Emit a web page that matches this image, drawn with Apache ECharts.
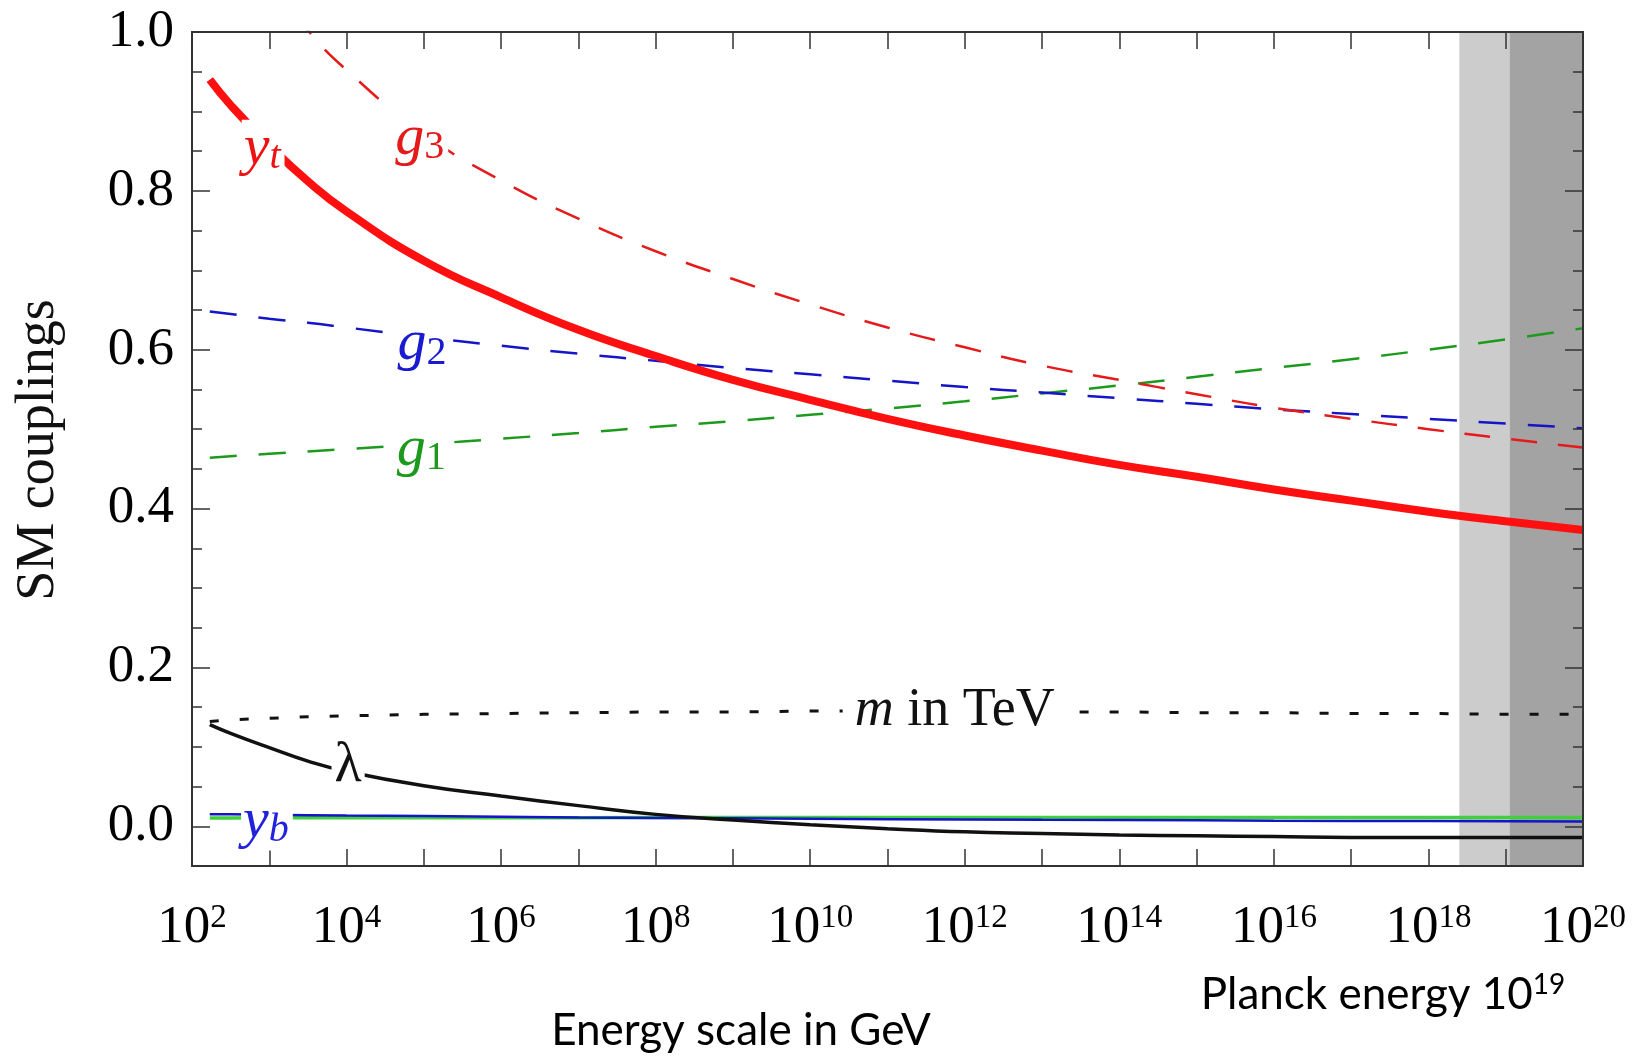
<!DOCTYPE html>
<html>
<head>
<meta charset="utf-8">
<script src="https://cdn.jsdelivr.net/npm/echarts@6/dist/echarts.min.js"></script>
<style>
html, body { margin: 0; padding: 0; background: #fff; }
#mycharts { width: 1639px; height: 1058px; }
</style>
</head>
<body>
<div id="mycharts"></div>
<script>
// x values are log10(energy / GeV)
var decades = [2.23, 2.5, 3, 3.5, 4, 5, 6, 7, 8, 9, 10, 11, 12, 13, 14, 15, 16, 17, 18, 19, 20];
var yt     = [0.940, 0.908, 0.857, 0.812, 0.774, 0.712, 0.666, 0.625, 0.592, 0.562, 0.537, 0.513, 0.492, 0.473, 0.455, 0.440, 0.424, 0.410, 0.396, 0.384, 0.373];
var g3     = [1.165, 1.130, 1.065, 1.002, 0.952, 0.872, 0.813, 0.765, 0.724, 0.689, 0.657, 0.628, 0.603, 0.580, 0.562, 0.544, 0.527, 0.513, 0.500, 0.488, 0.477];
var g2     = [0.648, 0.645, 0.639, 0.634, 0.628, 0.616, 0.605, 0.595, 0.586, 0.577, 0.569, 0.561, 0.553, 0.546, 0.539, 0.532, 0.525, 0.519, 0.513, 0.507, 0.501];
var g1     = [0.464, 0.466, 0.469, 0.472, 0.475, 0.481, 0.488, 0.495, 0.503, 0.510, 0.518, 0.526, 0.535, 0.545, 0.555, 0.566, 0.577, 0.588, 0.600, 0.613, 0.627];
var lambda = [0.128, 0.117, 0.099, 0.082, 0.069, 0.051, 0.038, 0.026, 0.015, 0.008, 0.002, -0.003, -0.007, -0.009, -0.011, -0.012, -0.013, -0.014, -0.014, -0.014, -0.014];
var mTeV   = [0.132, 0.134, 0.136, 0.138, 0.139, 0.141, 0.142, 0.143, 0.144, 0.144, 0.145, 0.145, 0.145, 0.144, 0.144, 0.143, 0.143, 0.142, 0.142, 0.141, 0.141];
var yb     = [0.015, 0.015, 0.0145, 0.014, 0.0135, 0.0128, 0.012, 0.0112, 0.0105, 0.010, 0.0095, 0.009, 0.0085, 0.0082, 0.008, 0.0075, 0.007, 0.0068, 0.0065, 0.0062, 0.006];
var greenSolid = [0.0105, 0.0105, 0.0106, 0.0106, 0.0107, 0.0108, 0.0108, 0.0109, 0.011, 0.011, 0.011, 0.011, 0.011, 0.011, 0.011, 0.011, 0.011, 0.011, 0.011, 0.011, 0.011];

var xLabelDecades = [2, 4, 6, 8, 10, 12, 14, 16, 18, 20];
var yMajor = [0, 0.2, 0.4, 0.6, 0.8, 1.0];
var yMinor = [-0.05, 0.05, 0.1, 0.15, 0.25, 0.3, 0.35, 0.45, 0.5, 0.55, 0.65, 0.7, 0.75, 0.85, 0.9, 0.95];
var planckBands = [[18.4, 19.05], [19.05, 20]];

function pairs(ys) {
    return decades.map(function (d, i) { return [d, ys[i]]; });
}

var serif = 'Liberation Serif';
var axisColor = '#333';

var myChart = echarts.init(document.getElementById('mycharts'));

function yAxisDef(pos, major, withLabels) {
    return {
        type: 'value', position: pos, min: -0.05, max: 1.0, z: 5,
        axisLine: { show: true, onZero: false, lineStyle: { color: axisColor, width: 2 } },
        axisTick: { show: true, inside: true, length: major ? 18 : 10,
            customValues: major ? yMajor : yMinor,
            lineStyle: { color: axisColor, width: 1.5 } },
        axisLabel: withLabels ? {
            show: true, customValues: yMajor, margin: 18,
            fontFamily: serif, fontSize: 53, color: '#000',
            formatter: function (v) { return v.toFixed(1); }
        } : { show: false },
        splitLine: { show: false }
    };
}

function xAxisDef(pos, withLabels) {
    return {
        type: 'value', position: pos, min: 2, max: 20, interval: 1, z: 5,
        axisLine: { show: true, onZero: false, lineStyle: { color: axisColor, width: 2 } },
        axisTick: { show: true, inside: true, length: 17, lineStyle: { color: axisColor, width: 1.5 } },
        axisLabel: withLabels ? {
            show: true, customValues: xLabelDecades, margin: 36,
            formatter: function (v) { return '{b|10}{p|' + v + '}'; },
            rich: {
                b: { fontFamily: serif, fontSize: 53, color: '#000', verticalAlign: 'bottom', lineHeight: 53 },
                p: { fontFamily: serif, fontSize: 33, color: '#000', verticalAlign: 'top', lineHeight: 33 }
            }
        } : { show: false },
        splitLine: { show: false }
    };
}

var option = {
    animation: false,
    backgroundColor: '#fff',
    grid: { left: 192, right: 56, top: 32, bottom: 192 },
    xAxis: [xAxisDef('bottom', true), xAxisDef('top', false)],
    yAxis: [
        yAxisDef('left', true, true),
        yAxisDef('left', false, false),
        yAxisDef('right', true, false),
        yAxisDef('right', false, false)
    ],
    series: [
        {
            name: 'mTeV', type: 'line', data: pairs(mTeV), showSymbol: false, z: 2,
            lineStyle: { color: '#111', width: 3, type: [9, 21] },
            markArea: {
                silent: true,
                data: [
                    [{ xAxis: planckBands[0][0], itemStyle: { color: '#cccccc' } }, { xAxis: planckBands[0][1] }],
                    [{ xAxis: planckBands[1][0], itemStyle: { color: '#a3a3a3' } }, { xAxis: planckBands[1][1] }]
                ]
            }
        },
        { name: 'green', type: 'line', data: pairs(greenSolid), showSymbol: false, z: 2,
          lineStyle: { color: '#3fcf3f', width: 3.5 } },
        { name: 'yb', type: 'line', data: pairs(yb), showSymbol: false, z: 3,
          lineStyle: { color: '#1515c8', width: 2.5 } },
        { name: 'lambda', type: 'line', data: pairs(lambda), showSymbol: false, smooth: 0.5, z: 3,
          lineStyle: { color: '#111', width: 3.5 } },
        { name: 'g1', type: 'line', data: pairs(g1), showSymbol: false, smooth: 0.5, z: 3,
          lineStyle: { color: '#1d9a1d', width: 2.5, type: [27, 22] } },
        { name: 'g2', type: 'line', data: pairs(g2), showSymbol: false, smooth: 0.5, z: 3,
          lineStyle: { color: '#1515c8', width: 2.5, type: [27, 22] } },
        { name: 'g3', type: 'line', data: pairs(g3), showSymbol: false, smooth: 0.5, z: 3,
          lineStyle: { color: '#e51a1a', width: 2.5, type: [26, 21] } },
        { name: 'yt', type: 'line', data: pairs(yt), showSymbol: false, smooth: 0.5, z: 4,
          lineStyle: { color: '#ff1010', width: 8 } }
    ]
};

myChart.setOption(option);

// curve labels, anchored in data coordinates (decade, value)
function at(d, v) { return myChart.convertToPixel({ gridIndex: 0 }, [d, v]); }

function curveLabel(d, v, main, sub, color, subItalic) {
    var p = at(d, v);
    return {
        type: 'text', x: p[0], y: p[1], z: 100,
        style: {
            text: '{m|' + main + '}{s|' + sub + '}',
            align: 'center', verticalAlign: 'middle',
            backgroundColor: '#fff', padding: [0, 4, 0, 2],
            rich: {
                m: { fontFamily: serif, fontStyle: 'italic', fontSize: 58, fill: color, color: color, lineHeight: 58 },
                s: { fontFamily: serif, fontStyle: subItalic ? 'italic' : 'normal',
                     fontSize: 40, fill: color, color: color, verticalAlign: 'bottom', lineHeight: 40 }
            }
        }
    };
}

var pLam = at(4.02, 0.075);
var pM = at(11.87, 0.146);

myChart.setOption({
    graphic: [
        curveLabel(2.92, 0.853, 'y', 't', '#ee1111', true),
        curveLabel(4.96, 0.866, 'g', '3', '#e51a1a', false),
        curveLabel(4.99, 0.607, 'g', '2', '#1a1ad0', false),
        curveLabel(4.98, 0.474, 'g', '1', '#1d9a1d', false),
        curveLabel(2.97, 0.006, 'y', 'b', '#2222dd', true),
        {
            type: 'text', x: pLam[0], y: pLam[1], z: 100,
            style: { text: 'λ', align: 'center', verticalAlign: 'middle', backgroundColor: '#fff',
                     padding: [0, 3], font: '56px "Liberation Serif"', fill: '#111' }
        },
        {
            type: 'text', x: pM[0], y: pM[1], z: 100,
            style: {
                text: '{i|m}{n| in TeV}', align: 'center', verticalAlign: 'middle',
                backgroundColor: '#fff', padding: [0, 12],
                rich: {
                    i: { fontFamily: serif, fontStyle: 'italic', fontSize: 54, fill: '#111', color: '#111' },
                    n: { fontFamily: serif, fontSize: 54, fill: '#111', color: '#111' }
                }
            }
        },
        {
            type: 'text', x: 39, y: 450, rotation: Math.PI / 2, z: 100,
            style: { text: 'SM couplings', align: 'center', verticalAlign: 'middle',
                     font: '54px "Liberation Serif"', fill: '#111' }
        },
        {
            type: 'text', x: 741, y: 1031, z: 100,
            style: { text: 'Energy scale in GeV', align: 'center', verticalAlign: 'middle',
                     font: '44px Lato', fill: '#000' }
        },
        {
            type: 'text', x: 1383, y: 994, z: 100,
            style: {
                text: '{a|Planck energy 10}{b|19}', align: 'center', verticalAlign: 'middle',
                rich: {
                    a: { fontFamily: 'Lato', fontSize: 44, fill: '#000', color: '#000', verticalAlign: 'bottom', lineHeight: 46 },
                    b: { fontFamily: 'Lato', fontSize: 28, fill: '#000', color: '#000', verticalAlign: 'top', lineHeight: 28 }
                }
            }
        }
    ]
});
</script>
</body>
</html>
